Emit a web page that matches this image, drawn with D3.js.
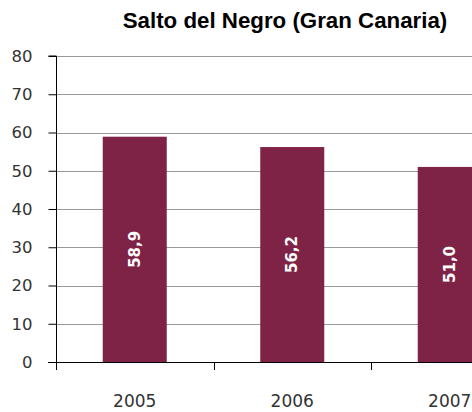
<!DOCTYPE html>
<html>
<head>
<meta charset="utf-8">
<script src="https://cdn.jsdelivr.net/npm/d3@7"></script>
<style>
  body { margin: 0; background: #fff; }
  svg { display: block; }
</style>
</head>
<body>
<div id="chart"></div>
<script>
const chartTitle = 'Salto del Negro (Gran Canaria)';
const years = ['2005', '2006', '2007'];
const values = [58.9, 56.2, 51.0];
const yTicks = [0, 10, 20, 30, 40, 50, 60, 70, 80];

function drawChart() {
  const width = 472;
  const height = 412;
  // plot spans past the right edge, like the cropped original
  const left = 56, top = 56, bottom = 362;
  const bandW = 157.5;

  const x = d3.scaleBand().domain(years).range([left, left + bandW * years.length]).paddingInner(0).paddingOuter(0);
  const y = d3.scaleLinear().domain([0, 80]).range([bottom, top]);

  const svg = d3.select('#chart').append('svg')
    .attr('width', width)
    .attr('height', height);

  // Title
  svg.append('text')
    .attr('x', 285)
    .attr('y', 28)
    .attr('text-anchor', 'middle')
    .attr('font-family', 'Liberation Sans, Arial, sans-serif')
    .attr('font-weight', 'bold')
    .attr('font-size', 22.3)
    .attr('fill', '#000')
    .text(chartTitle);

  // Gridlines
  svg.append('g')
    .selectAll('line')
    .data(yTicks.filter(d => d > 0))
    .enter().append('line')
    .attr('x1', left)
    .attr('x2', width)
    .attr('y1', d => Math.round(y(d)) + 0.5)
    .attr('y2', d => Math.round(y(d)) + 0.5)
    .attr('stroke', '#9a9a9a')
    .attr('stroke-width', 1);

  // Bars
  const barW = 64;
  svg.append('g')
    .selectAll('rect')
    .data(values)
    .enter().append('rect')
    .attr('x', (d, i) => x(years[i]) + (bandW - barW) / 2)
    .attr('y', d => y(d))
    .attr('width', barW)
    .attr('height', d => bottom - y(d))
    .attr('fill', '#7f2346');

  // Bar labels
  svg.append('g')
    .selectAll('text')
    .data(values)
    .enter().append('text')
    .attr('transform', (d, i) => {
      const cx = x(years[i]) + bandW / 2;
      const cy = (y(d) + bottom) / 2;
      return `translate(${cx + 5},${cy}) rotate(-90)`;
    })
    .attr('text-anchor', 'middle')
    .attr('font-family', 'DejaVu Sans, sans-serif')
    .attr('font-weight', 'bold')
    .attr('font-size', 15)
    .attr('fill', '#fff')
    .text(d => d.toFixed(1).replace('.', ','));

  // Y Axis
  const yAxis = svg.append('g')
    .attr('transform', `translate(${left + 0.5},0)`)
    .call(d3.axisLeft(y).tickValues(yTicks).tickSize(8).tickPadding(8).tickFormat(d3.format('d')));
  yAxis.select('.domain').attr('stroke', '#000').attr('d', `M-8,${top}H0V${bottom + 8}`);
  yAxis.selectAll('.tick line').attr('stroke', '#000');
  yAxis.selectAll('.tick text')
    .attr('x', -24)
    .attr('font-family', 'DejaVu Sans, sans-serif')
    .attr('font-size', 16.5)
    .attr('fill', '#333');

  // X Axis
  const xTickPos = d3.range(years.length + 1).map(i => left + i * bandW);
  svg.append('line')
    .attr('x1', left - 8)
    .attr('x2', width)
    .attr('y1', bottom + 0.5)
    .attr('y2', bottom + 0.5)
    .attr('stroke', '#000');
  svg.append('g')
    .selectAll('line')
    .data(xTickPos)
    .enter().append('line')
    .attr('x1', d => Math.round(d) + 0.5)
    .attr('x2', d => Math.round(d) + 0.5)
    .attr('y1', bottom)
    .attr('y2', bottom + 8)
    .attr('stroke', '#000');

  svg.append('g')
    .selectAll('text')
    .data(years)
    .enter().append('text')
    .attr('x', d => x(d) + bandW / 2)
    .attr('y', 407)
    .attr('text-anchor', 'middle')
    .attr('font-family', 'DejaVu Sans, sans-serif')
    .attr('font-size', 17)
    .attr('fill', '#333')
    .text(d => d);
}

drawChart();
</script>
</body>
</html>
